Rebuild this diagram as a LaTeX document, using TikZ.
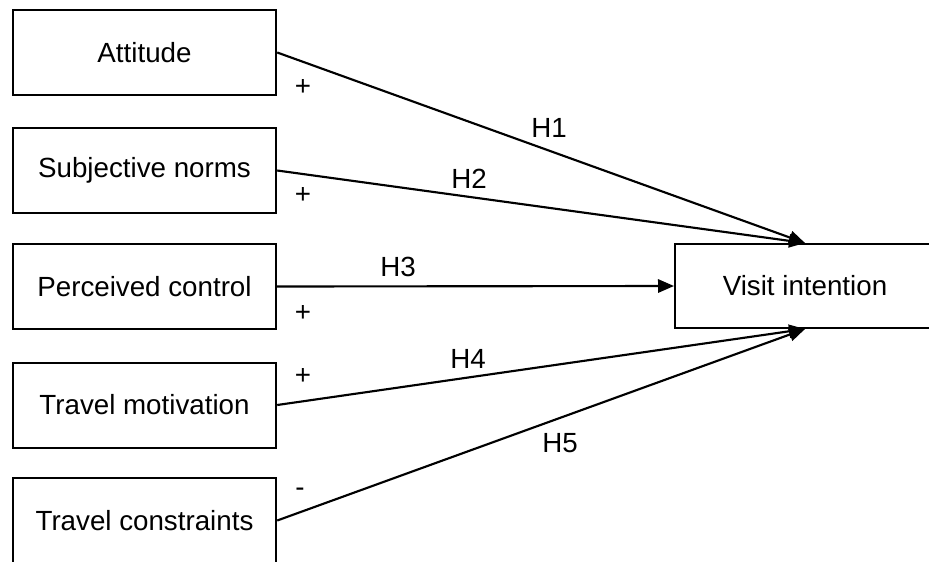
\documentclass[tikz,border=0pt]{standalone}
\usepackage{fontspec}
\setmainfont{Liberation Sans}
\usetikzlibrary{arrows.meta}
\begin{document}
\begin{tikzpicture}[x=0.75pt,y=-0.75pt,
  every node/.style={font=\fontsize{20.8pt}{24pt}\selectfont, inner sep=0pt},
  factor/.style={draw, line width=1.5pt, minimum width=197.6pt, minimum height=63.75pt},
  target/.style={draw, line width=1.5pt, minimum width=195pt, minimum height=63pt},
  link/.style={line width=1.6pt, -{Triangle[length=12pt,width=10pt]}},
  sign/.style={},
  hyp/.style={}]
  \useasboundingbox (0,0) rectangle (929,561);
  \clip (0,0) rectangle (929,561);

  % predictor boxes
  \node[factor] (attitude)    at (144.5,52.5)  {Attitude};
  \node[factor] (norms)       at (144.5,170.5) {Subjective norms};
  \node[factor] (control)     at (144.5,286.5) {Perceived control};
  \node[factor] (motivation)  at (144.5,405)   {Travel motivation};
  \node[factor] (constraints) at (144.5,520.5) {Travel constraints};

  % outcome box
  \node[target] (intention) at (805,286) {Visit intention};

  % hypothesised paths
  \draw[link] (attitude.east)    -- (intention.north);
  \draw[link] (norms.east)       -- (intention.north);
  \draw[link] (control.east)     -- (intention.west);
  \draw[link] (motivation.east)  -- (intention.south);
  \draw[link] (constraints.east) -- (intention.south);

  % path signs
  \node[sign] (s1) at (303,87)  {+};
  \node[sign] (s2) at (303,195) {+};
  \node[sign] (s3) at (303,313) {+};
  \node[sign] (s4) at (303,376) {+};
  \node[sign] (s5) at (300,492) {-};

  % hypothesis labels
  \node[hyp] (h1) at (549,128) {H1};
  \node[hyp] (h2) at (469,179) {H2};
  \node[hyp] (h3) at (398,267) {H3};
  \node[hyp] (h4) at (468,359) {H4};
  \node[hyp] (h5) at (560,443) {H5};
\end{tikzpicture}
\end{document}
